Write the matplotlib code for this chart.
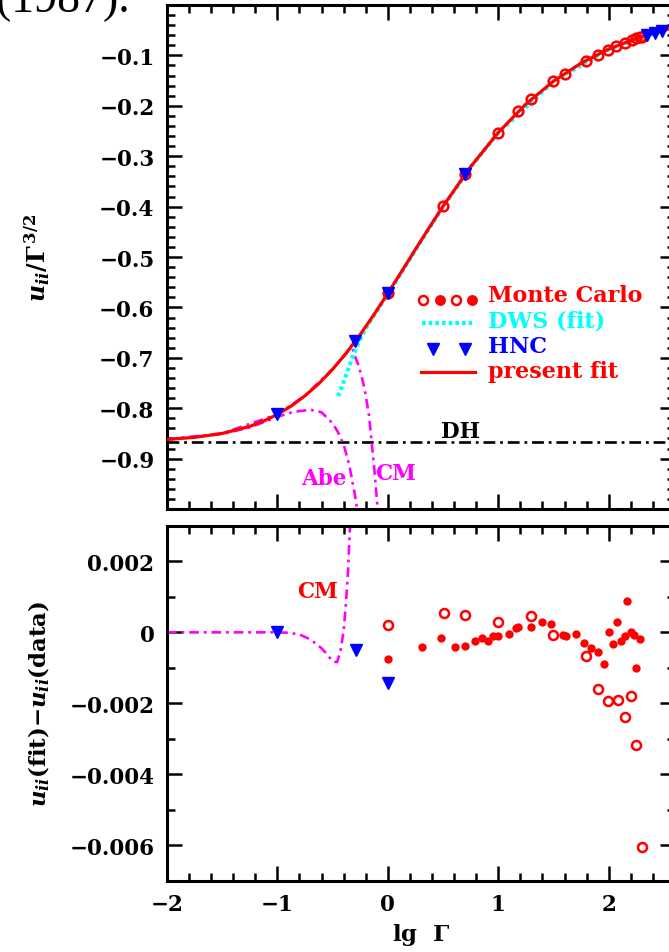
import matplotlib
matplotlib.use('Agg')
import matplotlib.pyplot as plt
from matplotlib.ticker import MultipleLocator, FixedLocator, FuncFormatter

plt.rcParams['font.family'] = ['DejaVu Serif']
plt.rcParams['font.weight'] = 'bold'
plt.rcParams['axes.labelweight'] = 'bold'
plt.rcParams['mathtext.fontset'] = 'custom'
plt.rcParams['mathtext.rm'] = 'DejaVu Serif:bold'
plt.rcParams['mathtext.it'] = 'DejaVu Serif:bold:italic'
plt.rcParams['mathtext.bf'] = 'DejaVu Serif:bold'
plt.rcParams['lines.scale_dashes'] = False

RED, CYAN, BLUE, MAG = '#ff0000', '#00ffff', '#0000ff', '#ff00ff'

# --- upper panel: u_ii / Gamma^{3/2} vs lg Gamma ---
lg_fit = [-2, -1.75, -1.5, -1.25, -1.125, -1, -0.875, -0.75, -0.625, -0.5, -0.375,
          -0.25, -0.125, 0, 0.125, 0.25, 0.375, 0.5, 0.75, 1, 1.25, 1.5, 1.75, 2,
          2.25, 2.5, 2.6]
u_fit = [-0.8619, -0.8578, -0.8500, -0.8360, -0.8255, -0.8122, -0.7956, -0.7753,
         -0.7511, -0.7227, -0.6901, -0.6537, -0.6140, -0.5721, -0.5286, -0.4848,
         -0.4414, -0.3992, -0.3208, -0.2529, -0.1965, -0.1511, -0.1153, -0.0875,
         -0.0662, -0.0499, -0.0446]

lg_dws = [-0.45, -0.40, -0.35, -0.30, -0.25, -0.2, -0.1, 0, 0.25, 0.5, 0.75, 1,
          1.5, 2, 2.5, 2.6]
u_dws = [-0.776, -0.748, -0.716, -0.688, -0.663, -0.641, -0.607, -0.574, -0.486,
         -0.400, -0.3215, -0.2535, -0.1515, -0.0877, -0.0500, -0.0447]

lg_abe = [-2, -1.5, -1.25, -1.0, -0.85, -0.7, -0.6, -0.5, -0.45, -0.4, -0.35,
          -0.3, -0.27]
u_abe = [-0.862, -0.851, -0.838, -0.817, -0.807, -0.803, -0.808, -0.830, -0.848,
         -0.872, -0.912, -0.970, -1.010]

lg_cm = [-2, -1.5, -1, -0.75, -0.5, -0.4, -0.35, -0.32, -0.30, -0.27, -0.24,
         -0.21, -0.17, -0.15, -0.125, -0.095, -0.08]
u_cm = [-0.862, -0.850, -0.812, -0.775, -0.7225, -0.697, -0.684, -0.682, -0.696,
        -0.712, -0.735, -0.762, -0.815, -0.860, -0.914, -0.993, -1.030]

u_dh = -0.866

lg_mc_top = [0.0, 0.5, 0.7, 1.0, 1.18, 1.3, 1.5, 1.6, 1.79, 1.9, 1.99, 2.07,
             2.15, 2.21, 2.25, 2.28, 2.3]
u_mc_top = [-0.572, -0.399, -0.336, -0.253, -0.211, -0.187, -0.151, -0.136,
            -0.1105, -0.0985, -0.0885, -0.0812, -0.0744, -0.0694, -0.0662,
            -0.0639, -0.0625]

lg_hnc_top = [-1, -0.3, 0, 0.7, 2.35, 2.42, 2.48]
u_hnc_top = [-0.812, -0.667, -0.572, -0.336, -0.059, -0.055, -0.051]

# --- lower panel: u_ii(fit) - u_ii(data), in units of 1e-3 ---
lg_mc_filled = [0.0, 0.31, 0.48, 0.61, 0.70, 0.785, 0.85, 0.905, 0.955, 1.0,
                1.10, 1.16, 1.18, 1.30, 1.40, 1.48, 1.59, 1.61, 1.70, 1.78, 1.84,
                1.90, 1.955, 2.0, 2.04, 2.075, 2.115, 2.145, 2.17, 2.205, 2.23,
                2.25, 2.28]
d_mc_filled = [-0.74, -0.40, -0.15, -0.42, -0.39, -0.25, -0.17, -0.25, -0.10,
               -0.11, -0.06, 0.12, 0.14, 0.15, 0.30, 0.25, -0.07, -0.09, -0.04,
               -0.31, -0.44, -0.54, -0.90, 0.0, -0.33, 0.29, -0.23, -0.11, 0.88,
               0.0, -0.08, -1.0, -0.20]

lg_mc_open = [0.0, 0.51, 0.70, 1.0, 1.30, 1.50, 1.795, 1.90, 1.99, 2.08, 2.145,
              2.20, 2.25, 2.30]
d_mc_open = [0.22, 0.54, 0.50, 0.28, 0.47, -0.07, -0.66, -1.59, -1.93, -1.92,
             -2.38, -1.80, -3.18, -6.06]

lg_hnc = [-1.0, -0.29, 0.0]
d_hnc = [0.0, -0.50, -1.42]

lg_cm_res = [-2, -1.5, -1.0, -0.9, -0.8, -0.7, -0.6, -0.55, -0.5, -0.46, -0.43,
             -0.40, -0.38, -0.36, -0.345, -0.335]
d_cm_res = [0, 0, 0, -0.01, -0.06, -0.2, -0.45, -0.62, -0.82, -0.84, -0.55, 0.05,
            0.8, 1.75, 2.85, 3.3]

x_ticks = [-2, -1, 0, 1, 2]
top_yticks = [-0.9, -0.8, -0.7, -0.6, -0.5, -0.4, -0.3, -0.2, -0.1]
bot_yticks = [-0.006, -0.004, -0.002, 0, 0.002]


def minus(s):
    return s.replace('-', '\u2212')


fig = plt.figure(figsize=(6.69, 9.53), dpi=100)
ax1 = fig.add_axes([0.2496, 0.4648, 0.7593, 0.5289])
ax2 = fig.add_axes([0.2496, 0.0750, 0.7593, 0.3720])

dashdot = [8.5, 3.5, 2.0, 3.5]
magdash = [7.0, 3.5, 2.0, 3.5]

# upper panel
ax1.axhline(u_dh, color='k', lw=1.9, dashes=dashdot, zorder=1)
ax1.plot(lg_abe, u_abe, color=MAG, lw=1.9, dashes=magdash, zorder=2)
ax1.plot(lg_cm, u_cm, color=MAG, lw=1.9, dashes=magdash, zorder=2)
ax1.plot(lg_dws, u_dws, color=CYAN, lw=3.0, dashes=[2.6, 2.2], zorder=3)
ax1.plot(lg_fit, u_fit, color=RED, lw=2.3, zorder=4)
ax1.plot(lg_mc_top, u_mc_top, 'o', mfc='none', mec=RED, ms=7, mew=1.8, zorder=5)
ax1.plot(lg_hnc_top, u_hnc_top, 'v', color=BLUE, ms=9, zorder=6)

ax1.text(0.66, -0.845, 'DH', color='k', fontsize=15.5, ha='center', va='center')
ax1.text(-0.58, -0.938, 'Abe', color=MAG, fontsize=15.5, ha='center', va='center')
ax1.text(0.07, -0.928, 'CM', color=MAG, fontsize=15.5, ha='center', va='center')

# legend, drawn by hand
tr = ax1.transAxes
for xm, filled in zip([0.504, 0.537, 0.569, 0.600], [False, True, False, True]):
    ax1.plot([xm], [0.415], 'o', transform=tr, ms=6.5 if not filled else 6.0,
             mfc=RED if filled else 'none', mec=RED, mew=1.8, clip_on=False)
ax1.plot([0.502, 0.602], [0.370, 0.370], transform=tr, color=CYAN, lw=3.0,
         dashes=[2.6, 2.2])
ax1.plot([0.524, 0.587], [0.318, 0.318], 'v', transform=tr, color=BLUE, ms=9,
         ls='none')
ax1.plot([0.500, 0.606], [0.272, 0.272], transform=tr, color=RED, lw=2.3)
leg_rows = [('Monte Carlo', RED, 0.412), ('DWS (fit)', CYAN, 0.362),
            ('HNC', BLUE, 0.311), ('present fit', RED, 0.261)]
for txt, col, yb in leg_rows:
    ax1.text(0.632, yb, txt, color=col, fontsize=16, transform=tr,
             ha='left', va='baseline')

ax1.set_xlim(-2, 2.6)
ax1.set_ylim(-1.0, 0.0)
ax1.yaxis.set_major_locator(FixedLocator(top_yticks))
ax1.yaxis.set_minor_locator(MultipleLocator(0.02))
ax1.yaxis.set_major_formatter(FuncFormatter(lambda v, p: minus(f'{v:.1f}')))
ax1.set_ylabel(r'$u_{ii}/\Gamma^{\,3/2}$', fontsize=17)

# lower panel
ax2.plot(lg_cm_res, [d * 1e-3 for d in d_cm_res], color=MAG, lw=1.9,
         dashes=magdash, zorder=2)
ax2.plot(lg_mc_filled, [d * 1e-3 for d in d_mc_filled], 'o', color=RED,
         ms=6.0, mew=0, zorder=4)
ax2.plot(lg_mc_open, [d * 1e-3 for d in d_mc_open], 'o', mfc='none', mec=RED,
         ms=6.5, mew=1.8, zorder=4)
ax2.plot(lg_hnc, [d * 1e-3 for d in d_hnc], 'v', color=BLUE, ms=9, zorder=5)
ax2.text(-0.64, 0.00116, 'CM', color=RED, fontsize=15.5, ha='center', va='center')

ax2.set_xlim(-2, 2.6)
ax2.set_ylim(-0.007, 0.003)
ax2.yaxis.set_major_locator(FixedLocator(bot_yticks))
ax2.yaxis.set_minor_locator(MultipleLocator(0.001))
ax2.yaxis.set_major_formatter(
    FuncFormatter(lambda v, p: '0' if abs(v) < 1e-12 else minus(f'{v:.3f}')))
ax2.set_ylabel(r'$u_{ii}$(fit)$-u_{ii}$(data)', fontsize=16.5)
ax2.set_xlabel(r'lg  $\Gamma$', fontsize=16.5)
ax2.xaxis.set_label_coords(0.5, -0.115)

for ax in (ax1, ax2):
    ax.xaxis.set_major_locator(FixedLocator(x_ticks))
    ax.xaxis.set_minor_locator(MultipleLocator(0.2))
    ax.xaxis.set_major_formatter(FuncFormatter(lambda v, p: minus(f'{v:.0f}')))
    ax.tick_params(which='both', direction='in', top=True, right=True,
                   width=1.8, labelsize=15.5)
    ax.tick_params(which='major', length=11, pad=9)
    ax.tick_params(which='minor', length=5.5)
    for s in ax.spines.values():
        s.set_linewidth(2.2)
    ax.yaxis.set_label_coords(-0.226, 0.5)
ax1.tick_params(labelbottom=False)

# running head of the page above the figure, mostly off the top edge
fig.text(-0.006, 1 - 12 / 953, '(1987).', fontsize=33, fontweight='normal',
         family='Liberation Serif', ha='left', va='baseline')

fig.savefig('out.png', dpi=100)
